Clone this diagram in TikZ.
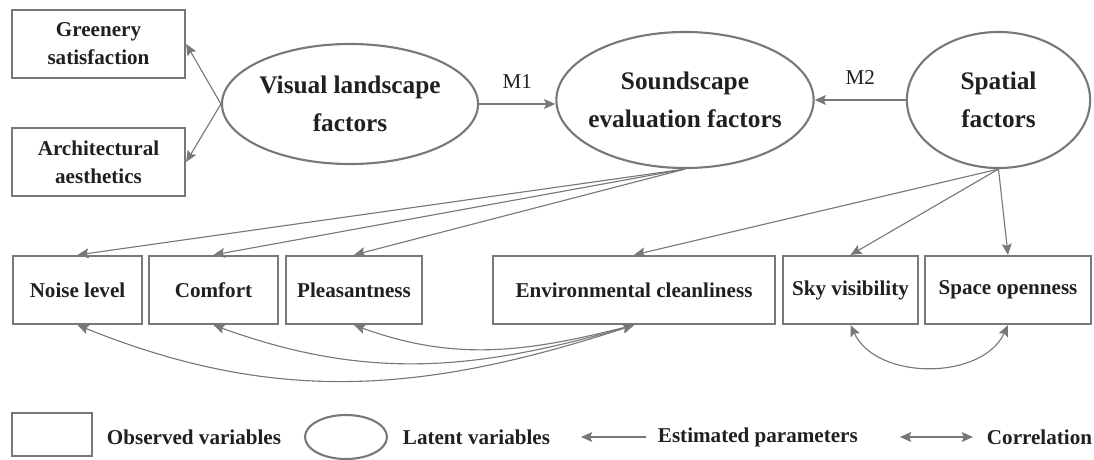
\documentclass[tikz,border=0pt]{standalone}
\usepackage{fontspec}
\setmainfont{Liberation Serif}
\usetikzlibrary{arrows.meta, shapes.geometric}
\definecolor{linegray}{RGB}{120,120,122}
\definecolor{inkdark}{RGB}{35,31,32}

\tikzset{
  obsbox/.style={draw=linegray, line width=1.5pt, rectangle, minimum height=1.7cm, inner sep=0pt,
    align=center, text=inkdark, font=\fontsize{15}{20}\selectfont\bfseries},
  latent/.style={draw=linegray, line width=1.5pt, ellipse, inner xsep=-8pt, inner ysep=0pt,
    align=center, text=inkdark, font=\fontsize{18}{27}\selectfont\bfseries},
  legtext/.style={anchor=west, text=inkdark, font=\fontsize{15}{20}\selectfont\bfseries},
  est/.style={draw=linegray, line width=0.8pt, -{Stealth[length=8pt, width=7pt, inset=1.5pt]}},
  corr/.style={draw=linegray, line width=0.8pt, {Stealth[length=8pt, width=7pt, inset=1.5pt]}-{Stealth[length=8pt, width=7pt, inset=1.5pt]}}
}

\begin{document}
\begin{tikzpicture}[x=0.025cm, y=-0.025cm]
        \useasboundingbox (0,0) rectangle (1094,460);

        % Observed variables of the visual landscape
        \node[obsbox, minimum width=4.33cm] (green) at (98.5,44) {Greenery\\satisfaction};
        \node[obsbox, minimum width=4.33cm] (arch) at (98.5,162) {Architectural\\aesthetics};

        % Latent variables
        \node[latent, minimum width=6.4cm, minimum height=3cm] (visual) at (350,104) {Visual landscape\\factors};
        \node[latent, minimum width=6.43cm, minimum height=3.4cm] (sound) at (685,100) {Soundscape\\evaluation factors};
        \node[latent, minimum width=4.58cm, minimum height=3.4cm] (spatial) at (998.5,100) {Spatial\\factors};

        % Observed variables, bottom row
        \node[obsbox, minimum width=3.22cm] (noise) at (77.5,290) {Noise level};
        \node[obsbox, minimum width=3.22cm] (comfort) at (213.5,290) {Comfort};
        \node[obsbox, minimum width=3.4cm] (pleas) at (354,290) {Pleasantness};
        \node[obsbox, minimum width=7.05cm] (env) at (634,290) {Environmental cleanliness};
        \node[obsbox, minimum width=3.37cm] (sky) at (850.5,290) {Sky visibility};
        \node[obsbox, minimum width=4.15cm] (space) at (1008,290) {Space openness};

        % Paths between latent variables
        \draw[est] (visual.west) -- (green.east);
        \draw[est] (visual.west) -- (arch.east);
        \draw[est] (visual.east) -- node[above=7pt, text=inkdark, font=\fontsize{15}{18}\selectfont] {M1} (visual.east -| sound.west);
        \draw[est] (spatial.west) -- node[above=7pt, text=inkdark, font=\fontsize{15}{18}\selectfont] {M2} (sound.east);

        % Loadings
        \draw[est] (sound.south) -- (noise.north);
        \draw[est] (sound.south) -- (comfort.north);
        \draw[est] (sound.south) -- (pleas.north);
        \draw[est] (spatial.south) -- (env.north);
        \draw[est] (spatial.south) -- (sky.north);
        \draw[est] (spatial.south) -- (space.north);

        % Correlations
        \draw[corr] (noise.south) to[out=-22, in=-162] (env.south);
        \draw[corr] (comfort.south) to[out=-20, in=-164] (env.south);
        \draw[corr] (pleas.south) to[out=-20, in=-166] (env.south);
        \draw[corr] (sky.south) to[out=-65, in=-115] (space.south);

        % Legend
        \node[draw=linegray, line width=1.5pt, minimum width=2cm, minimum height=1.08cm] (legbox) at (52,434.5) {};
        \node[legtext] (legobs) at (102,437) {Observed variables};
        \node[draw=linegray, line width=1.5pt, ellipse, minimum width=2.05cm, minimum height=1.1cm] (legell) at (346,437) {};
        \node[legtext] (leglat) at (398,437) {Latent variables};
        \coordinate (e1) at (646,437);
        \coordinate (e2) at (581,437);
        \draw[est] (e1) -- (e2);
        \node[legtext] (legest) at (653,437) {Estimated parameters};
        \coordinate (c1) at (900,437);
        \coordinate (c2) at (973,437);
        \draw[corr] (c1) -- (c2);
        \node[legtext] (legcorr) at (982,437) {Correlation};
\end{tikzpicture}
\end{document}
